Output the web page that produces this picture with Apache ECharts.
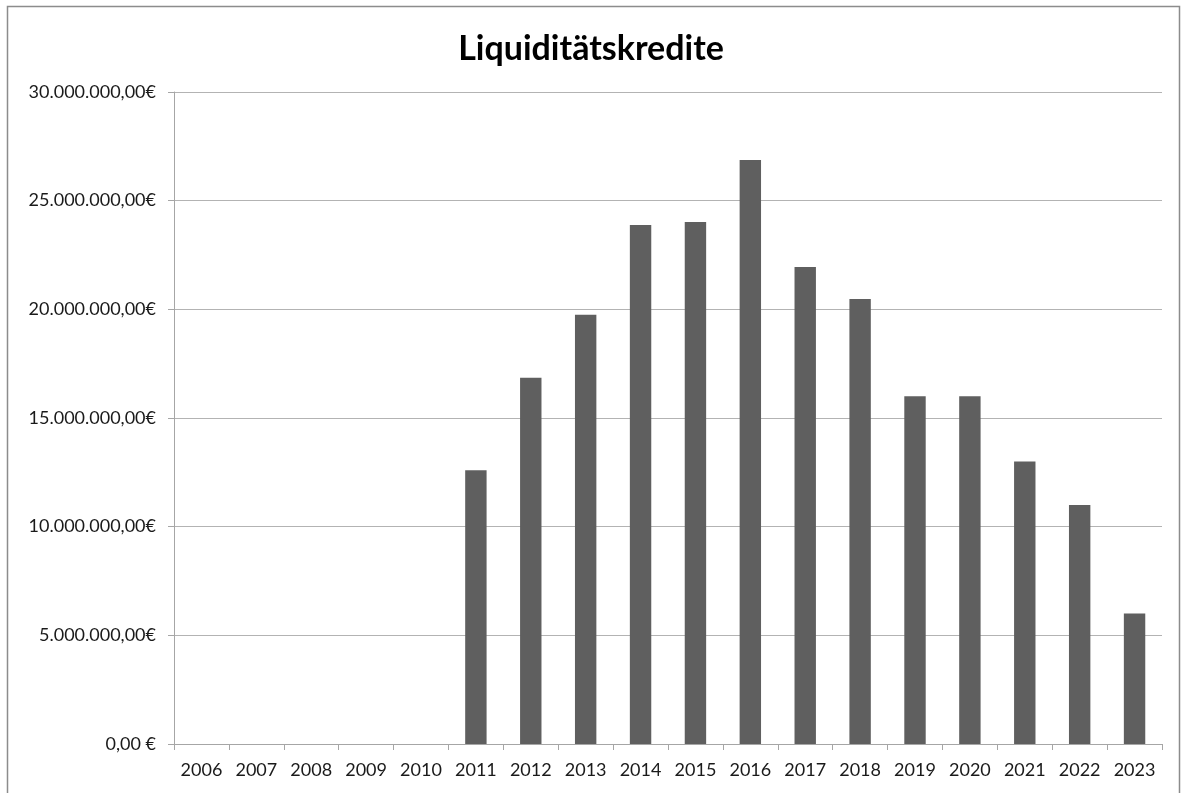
<!DOCTYPE html>
<html>
<head>
<meta charset="utf-8">
<script src="https://cdn.jsdelivr.net/npm/echarts@6/dist/echarts.min.js"></script>
<style>
  html, body { margin: 0; padding: 0; background: #fff; }
  #chart { width: 1182px; height: 793px; }
</style>
</head>
<body>
<div id="chart"></div>
<script>
// Liquiditätskredite per year (EUR)
const years = ['2006', '2007', '2008', '2009', '2010', '2011', '2012', '2013', '2014',
  '2015', '2016', '2017', '2018', '2019', '2020', '2021', '2022', '2023']
const kredite = [0, 0, 0, 0, 0, 12600000, 16850000, 19750000, 23880000,
  24020000, 26870000, 21950000, 20470000, 16000000, 16000000, 13000000, 11000000, 6000000]
const yTicks = [0, 5000000, 10000000, 15000000, 20000000, 25000000, 30000000]

const font = 'Lato, "Open Sans", sans-serif'

function euro(v) {
  if (v === 0) return '0,00 €'
  return String(v).replace(/\B(?=(\d{3})+(?!\d))/g, '.') + ',00€'
}

const chart = echarts.init(document.getElementById('chart'))
chart.setOption({
  animation: false,
  textStyle: { fontFamily: font },
  title: {
    text: 'Liquiditätskredite',
    left: 'center',
    top: 27,
    textStyle: { fontFamily: font, fontSize: 34, fontWeight: 'bold', color: '#000' }
  },
  graphic: [{
    type: 'rect',
    shape: { x: 7.5, y: 6.5, width: 1172, height: 800 },
    style: { fill: 'none', stroke: '#8c8c8c', lineWidth: 1.5 },
    silent: true
  }],
  grid: { left: 174, right: 20, top: 92, bottom: 49 },
  xAxis: {
    type: 'category',
    data: years,
    axisLine: { lineStyle: { color: '#a6a6a6', width: 1 } },
    axisTick: { show: true, length: 6, alignWithLabel: false, lineStyle: { color: '#a6a6a6' } },
    axisLabel: { color: '#1a1a1a', fontSize: 18, margin: 17, fontFamily: font }
  },
  yAxis: {
    type: 'value',
    min: yTicks[0],
    max: yTicks[yTicks.length - 1],
    interval: yTicks[1] - yTicks[0],
    axisLine: { show: true, lineStyle: { color: '#a6a6a6' } },
    axisTick: { show: true, length: 6, lineStyle: { color: '#a6a6a6' } },
    splitLine: { lineStyle: { color: '#b3b3b3', width: 1 } },
    axisLabel: { color: '#1a1a1a', fontSize: 18, margin: 18, fontFamily: font, formatter: euro }
  },
  series: [{
    type: 'bar',
    data: kredite,
    barWidth: '39%',
    itemStyle: { color: '#5f5f5f', borderWidth: 0 }
  }]
})
</script>
</body>
</html>
